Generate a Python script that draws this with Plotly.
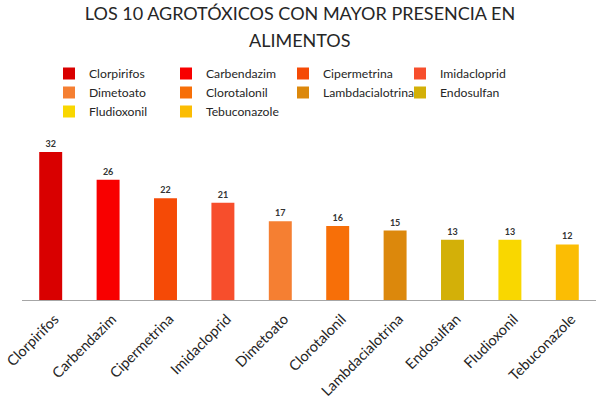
import plotly.graph_objects as go

categories = ["Clorpirifos", "Carbendazim", "Cipermetrina", "Imidacloprid", "Dimetoato",
              "Clorotalonil", "Lambdacialotrina", "Endosulfan", "Fludioxonil", "Tebuconazole"]
values = [32, 26, 22, 21, 17, 16, 15, 13, 13, 12]
colors = ["#d90000", "#f80000", "#f54a06", "#f74e2c", "#f57f32",
          "#f76f08", "#dc880c", "#d3b008", "#f9d700", "#fbbd04"]
title_lines = ["LOS 10 AGROTÓXICOS CON MAYOR PRESENCIA EN", "ALIMENTOS"]

FONT = "Lato"

fig = go.Figure()
for cat, val, col in zip(categories, values, colors):
    fig.add_trace(go.Bar(
        x=[cat], y=[val], name=cat,
        marker=dict(color=col, line=dict(width=0)),
        text=[str(val)], textposition="outside",
        textfont=dict(family=FONT, size=9, color="#333333", weight="bold"),
        cliponaxis=False,
    ))

fig.update_layout(
    width=600, height=402,
    margin=dict(l=22, r=4, t=138, b=102, autoexpand=False),
    paper_bgcolor="white", plot_bgcolor="white",
    barmode="overlay", bargap=0.6,
    title=dict(text=title_lines[0], x=0.5, xanchor="center", xref="container",
               y=1 - 14 / 402, yanchor="middle", yref="container",
               font=dict(family=FONT, size=18, color="#262626")),
    annotations=[dict(text=title_lines[1], showarrow=False,
                      xref="paper", yref="paper",
                      x=(300 - 22) / 574, y=(300 - 40) / 162,
                      xanchor="center", yanchor="middle",
                      font=dict(family=FONT, size=18, color="#262626"))],
    showlegend=True,
    legend=dict(orientation="h", x=0.047, xanchor="left",
                y=1 - 59 / 402, yanchor="top", yref="container",
                font=dict(family=FONT, size=12.2, color="#262626"),
                entrywidth=72, entrywidthmode="pixels",
                traceorder="normal", itemclick=False, tracegroupgap=0),
    font=dict(family=FONT),
)

fig.update_xaxes(categoryorder="array", categoryarray=categories,
                 tickangle=-45, tickfont=dict(family=FONT, size=14.5, color="#262626"),
                 ticklabelstandoff=4, ticklabelshift=4,
                 showline=True, linecolor="#a6a6a6", linewidth=1,
                 showgrid=False, ticks="", fixedrange=True, automargin=False)
fig.update_yaxes(range=[0, 35], visible=False, showgrid=False, zeroline=False,
                 fixedrange=True, automargin=False)

fig.write_html("out.html", config={"displayModeBar": False, "staticPlot": True},
               post_script="document.body.style.margin='0';document.body.style.overflow='hidden';")
